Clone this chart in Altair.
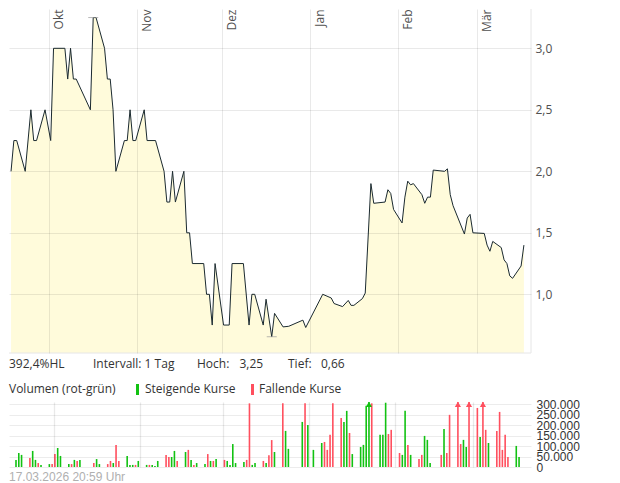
import altair as alt
import pandas as pd

# ---------------- data ----------------
price_dates = [
    "2025-09-17", "2025-09-18", "2025-09-19", "2025-09-22", "2025-09-24", "2025-09-25", "2025-09-26", "2025-09-29",
    "2025-10-01", "2025-10-02", "2025-10-06", "2025-10-07", "2025-10-08", "2025-10-09", "2025-10-10", "2025-10-15",
    "2025-10-16", "2025-10-17", "2025-10-20", "2025-10-21", "2025-10-22", "2025-10-23", "2025-10-24", "2025-10-27",
    "2025-10-28", "2025-10-29", "2025-10-30", "2025-10-31",
    "2025-11-03", "2025-11-04", "2025-11-07", "2025-11-10", "2025-11-11", "2025-11-12", "2025-11-13", "2025-11-14",
    "2025-11-17", "2025-11-18", "2025-11-19", "2025-11-20", "2025-11-24", "2025-11-25", "2025-11-26", "2025-11-27",
    "2025-11-28",
    "2025-12-01", "2025-12-03", "2025-12-04", "2025-12-08", "2025-12-10", "2025-12-11", "2025-12-12", "2025-12-15",
    "2025-12-16", "2025-12-18", "2025-12-19", "2025-12-22", "2025-12-24", "2025-12-29", "2025-12-30",
    "2026-01-05", "2026-01-08", "2026-01-09", "2026-01-12", "2026-01-14", "2026-01-15", "2026-01-16", "2026-01-19",
    "2026-01-20", "2026-01-22", "2026-01-23", "2026-01-27", "2026-01-28", "2026-01-29", "2026-01-30",
    "2026-02-02", "2026-02-03", "2026-02-04", "2026-02-05", "2026-02-06", "2026-02-09", "2026-02-10", "2026-02-11",
    "2026-02-12", "2026-02-13", "2026-02-17", "2026-02-18", "2026-02-19", "2026-02-20", "2026-02-24", "2026-02-25",
    "2026-02-26", "2026-02-27",
    "2026-03-03", "2026-03-04", "2026-03-05", "2026-03-06", "2026-03-09", "2026-03-10", "2026-03-11", "2026-03-12",
    "2026-03-13", "2026-03-16", "2026-03-17",
]
price_values = [
    2.00, 2.25, 2.25, 2.00, 2.50, 2.25, 2.25, 2.50,
    2.25, 3.00, 3.00, 2.75, 3.00, 2.75, 2.75, 2.50,
    3.25, 3.25, 3.00, 2.75, 2.75, 2.50, 2.00, 2.25,
    2.25, 2.50, 2.25, 2.25,
    2.50, 2.25, 2.25, 2.00, 1.75, 1.75, 2.00, 1.75,
    2.00, 1.50, 1.50, 1.25, 1.25, 1.00, 1.00, 0.75,
    1.25,
    0.75, 0.75, 1.25, 1.25, 0.75, 1.00, 1.00, 0.75,
    0.96, 0.655, 0.845, 0.735, 0.74, 0.79, 0.73,
    1.00, 0.97, 0.925, 0.90, 0.95, 0.91, 0.91, 0.965,
    1.01, 1.90, 1.74, 1.75, 1.85, 1.82, 1.69,
    1.58, 1.79, 1.92, 1.89, 1.90, 1.81, 1.74, 1.79,
    1.79, 2.01, 2.00, 2.02, 1.81, 1.72, 1.49, 1.62,
    1.65, 1.50,
    1.495, 1.40, 1.35, 1.43, 1.38, 1.28, 1.25, 1.15,
    1.13, 1.23, 1.40,
]

vol_dates = [
    "2025-09-17", "2025-09-18", "2025-09-19", "2025-09-22", "2025-09-23", "2025-09-24", "2025-09-25", "2025-09-26",
    "2025-09-29", "2025-09-30", "2025-10-01", "2025-10-02", "2025-10-03", "2025-10-06", "2025-10-07", "2025-10-08",
    "2025-10-09", "2025-10-10", "2025-10-15", "2025-10-16", "2025-10-17", "2025-10-20", "2025-10-21", "2025-10-22",
    "2025-10-23", "2025-10-24", "2025-10-27", "2025-10-28", "2025-10-29", "2025-10-30", "2025-10-31",
    "2025-11-03", "2025-11-04", "2025-11-05", "2025-11-06", "2025-11-07", "2025-11-10", "2025-11-11", "2025-11-12",
    "2025-11-13", "2025-11-14", "2025-11-17", "2025-11-18", "2025-11-19", "2025-11-20", "2025-11-21", "2025-11-24",
    "2025-11-25", "2025-11-26", "2025-11-27", "2025-11-28",
    "2025-12-01", "2025-12-02", "2025-12-03", "2025-12-04", "2025-12-05", "2025-12-08", "2025-12-09", "2025-12-10",
    "2025-12-11", "2025-12-12", "2025-12-15", "2025-12-16", "2025-12-17", "2025-12-18", "2025-12-19", "2025-12-22",
    "2025-12-23", "2025-12-24", "2025-12-29", "2025-12-30", "2025-12-31",
    "2026-01-02", "2026-01-05", "2026-01-06", "2026-01-07", "2026-01-08", "2026-01-09", "2026-01-12", "2026-01-13",
    "2026-01-14", "2026-01-15", "2026-01-16", "2026-01-19", "2026-01-20", "2026-01-21", "2026-01-22", "2026-01-23",
    "2026-01-26", "2026-01-27", "2026-01-28", "2026-01-29", "2026-01-30",
    "2026-02-02", "2026-02-03", "2026-02-04", "2026-02-05", "2026-02-06", "2026-02-09", "2026-02-10", "2026-02-11",
    "2026-02-12", "2026-02-13", "2026-02-17", "2026-02-18", "2026-02-19", "2026-02-20", "2026-02-23", "2026-02-24",
    "2026-02-25", "2026-02-26", "2026-02-27",
    "2026-03-02", "2026-03-03", "2026-03-04", "2026-03-05", "2026-03-06", "2026-03-09", "2026-03-10", "2026-03-11",
    "2026-03-12", "2026-03-13", "2026-03-16", "2026-03-17",
]
vol_values = [
    34000, 67000, 58000, 43000, 77000, 34000, 19000, 10000,
    14000, 14000, 62000, 91000, 53000, 14000, 14000, 34000,
    29000, 34000, 19000, 38000, 14000, 14000, 29000, 19000,
    106000, 29000, 53000, 10000, 10000, 10000, 29000,
    10000, 10000, 10000, 5000, 29000, 58000, 48000, 48000,
    77000, 29000, 72000, 82000, 34000, 10000, 19000, 14000,
    62000, 29000, 29000, 38000,
    34000, 29000, 10000, 110000, 19000, 24000, 34000, 305000,
    10000, 19000, 29000, 19000, 56000, 129000, 72000, 305000,
    173000, 87000, 216000, 305000, 201000,
    82000, 115000, 120000, 82000, 154000, 305000, 235000, 216000,
    269000, 163000, 62000, 96000, 106000, 293000, 400000, 305000,
    155000, 155000, 308000, 158000, 178000,
    67000, 58000, 269000, 106000, 58000, 38000, 58000, 149000,
    130000, 19000, 58000, 182000, 67000, 250000, 400000, 110000,
    130000, 96000, 400000,
    283000, 144000, 400000, 178000, 115000, 173000, 264000, 82000,
    154000, 48000, 101000, 48000,
]
vol_dirs = [
    "up", "up", "up", "down", "up", "up", "down", "up",
    "up", "down", "down", "up", "up", "up", "down", "up",
    "down", "up", "down", "up", "up", "down", "down", "up",
    "down", "down", "up", "up", "up", "down", "up",
    "up", "down", "up", "up", "up", "down", "down", "up",
    "up", "down", "up", "down", "up", "down", "up", "up",
    "down", "up", "down", "up",
    "down", "up", "up", "up", "up", "up", "down", "down",
    "up", "up", "down", "up", "down", "down", "up", "down",
    "up", "up", "up", "down", "up",
    "up", "up", "down", "down", "down", "down", "down", "up",
    "up", "down", "up", "up", "up", "up", "up", "down",
    "up", "up", "up", "down", "down",
    "down", "up", "up", "down", "up", "down", "down", "up",
    "up", "up", "down", "up", "down", "down", "down", "down",
    "up", "up", "down",
    "down", "up", "down", "down", "up", "down", "down", "down",
    "down", "down", "up", "up",
]

month_dates = ["2025-10-01", "2025-11-01", "2025-12-01", "2026-01-01", "2026-02-01", "2026-03-01"]
month_labels = ["Okt", "Nov", "Dez", "Jan", "Feb", "Mär"]
price_ticks = [1.0, 1.5, 2.0, 2.5, 3.0]
volume_ticks = [0, 50000, 100000, 150000, 200000, 250000, 300000]
extreme_dates = ["2025-10-16", "2025-12-18"]
extreme_values = [3.25, 0.655]

info_texts = ["392,4%HL", "Intervall: 1 Tag", "Hoch:", "3,25", "Tief:", "0,66"]
legend_texts = ["Volumen (rot-grün)", "Steigende Kurse", "Fallende Kurse"]
timestamp_text = "17.03.2026 20:59 Uhr"

# ---------------- layout / style ----------------
W = 522
H_P = 344
H_V = 65
Y_MIN, Y_MAX = 0.5228, 3.3195
VOL_MAX = 311500
X0 = alt.DateTime(year=2025, month=9, date=16, hours=18, minutes=43)
X1 = alt.DateTime(year=2026, month=3, date=20, hours=0)
GREEN = "#12c212"
RED = "#ff4f5e"
FILL = "#fffbdb"
LINE = "#1b2a30"
FONT = "Open Sans"

price_df = pd.DataFrame({"date": pd.to_datetime(price_dates) + pd.Timedelta(hours=12), "price": price_values})
vol_df = pd.DataFrame({"date": pd.to_datetime(vol_dates) + pd.Timedelta(hours=12), "vol": vol_values, "dir": vol_dirs})
ext_df = pd.DataFrame({"date": pd.to_datetime(extreme_dates) + pd.Timedelta(hours=12), "price": extreme_values})
month_df = pd.DataFrame({"date": pd.to_datetime(month_dates), "label": month_labels})

grid_vals = [alt.DateTime(year=int(d[:4]), month=int(d[5:7]), date=1) for d in month_dates]
x_scale = alt.Scale(domain=[X0, X1])


def x_grid_axis(width=1.0):
    return alt.Axis(values=grid_vals, grid=True, labels=False, ticks=False, domain=False, title=None,
                    gridColor="#000000", gridOpacity=0.085, gridWidth=width, zindex=1)


def one_row():
    return alt.Data(values=[{}])


def label(text, x, y, font=FONT, color="#333333", size=12):
    return alt.Chart(one_row()).mark_text(
        text=text, align="left", baseline="middle", font=font, fontSize=size, color=color
    ).encode(x=alt.value(x), y=alt.value(y))


# ---------------- price panel ----------------
y_price = alt.Y(
    "price:Q",
    scale=alt.Scale(domain=[Y_MIN, Y_MAX], zero=False, nice=False),
    axis=alt.Axis(orient="right", values=price_ticks,
                  labelExpr="replace(format(datum.value, '.1f'), '.', ',')",
                  grid=True, ticks=False, domain=False, title=None, labelOverlap=False,
                  labelFont=FONT, labelFontSize=12, labelColor="#505050", labelPadding=4,
                  gridColor="#000000", gridOpacity=0.085, zindex=1),
)

area = alt.Chart(price_df).mark_area(color=FILL, clip=True).encode(
    x=alt.X("date:T", scale=x_scale, axis=x_grid_axis()),
    y=y_price,
    y2=alt.datum(Y_MIN),
)
line = alt.Chart(price_df).mark_line(color=LINE, strokeWidth=1, clip=True).encode(
    x="date:T", y="price:Q"
)
ext_ticks = alt.Chart(ext_df).mark_tick(orient="horizontal", size=10, thickness=1, color="#9a9a9a").encode(
    x="date:T", y="price:Q"
)
months = alt.Chart(month_df).mark_text(
    angle=270, align="right", baseline="top", dy=4.8, font=FONT, fontSize=12, color="#505050"
).encode(x="date:T", y=alt.value(0.5), text="label:N")

border_r = alt.Chart(one_row()).mark_rule(color="#e6e6e6", strokeWidth=1).encode(
    x=alt.value(W), y=alt.value(0), y2=alt.value(H_P)
)
border_b = alt.Chart(one_row()).mark_rule(color="#e6e6e6", strokeWidth=1).encode(
    x=alt.value(0), x2=alt.value(W), y=alt.value(H_P)
)

row1_y = 355.4
row2_y = 380.4
info_layers = [
    label(info_texts[0], 0, row1_y),
    label(info_texts[1], 84, row1_y),
    label(info_texts[2], 188, row1_y),
    label(info_texts[3], 230.5, row1_y),
    label(info_texts[4], 279, row1_y),
    label(info_texts[5], 312, row1_y),
    label(legend_texts[0], 0, row2_y),
    label(legend_texts[1], 136, row2_y),
    label(legend_texts[2], 250, row2_y),
]
sw_green = alt.Chart(one_row()).mark_rect(color=GREEN).encode(
    x=alt.value(127), x2=alt.value(130), y=alt.value(375), y2=alt.value(386)
)
sw_red = alt.Chart(one_row()).mark_rect(color=RED).encode(
    x=alt.value(242), x2=alt.value(245), y=alt.value(375), y2=alt.value(386)
)

price_panel = alt.layer(
    area, line, ext_ticks, months, border_r, border_b, sw_green, sw_red, *info_layers
).properties(width=W, height=H_P)

# ---------------- volume panel ----------------
color_enc = alt.Color("dir:N", scale=alt.Scale(domain=["up", "down"], range=[GREEN, RED]), legend=None)
vol_scale = alt.Scale(domain=[0, VOL_MAX], nice=False, zero=True)
vol_axis = alt.Axis(orient="right", values=volume_ticks,
                    labelExpr="replace(format(datum.value, ',d'), ',', '.')",
                    grid=True, ticks=False, domain=False, title=None, labelOverlap=False,
                    labelFont="Liberation Sans", labelFontSize=12, labelColor="#333333",
                    labelPadding=5, labelBound=False,
                    gridColor="#000000", gridOpacity=0.075, zindex=0)

bars = alt.Chart(vol_df).mark_bar(width=1.6, clip=True).encode(
    x=alt.X("date:T", scale=x_scale, axis=x_grid_axis(1.3)),
    y=alt.Y("vol:Q", scale=vol_scale, axis=vol_axis),
    color=color_enc,
)
arrows = alt.Chart(vol_df).transform_filter(
    alt.datum.vol > VOL_MAX
).transform_calculate(
    top="300000"
).mark_point(shape="triangle-up", filled=True, size=38, opacity=1).encode(
    x=alt.X("date:T", scale=x_scale, axis=x_grid_axis(1.3)),
    y=alt.Y("top:Q", scale=vol_scale, axis=vol_axis),
    color=color_enc,
)
stamp = label(timestamp_text, 0, 74.6, font="Liberation Sans", color="#b0b0b0")

volume_panel = alt.layer(bars, arrows, stamp).properties(width=W, height=H_V)

chart = alt.vconcat(price_panel, volume_panel, spacing=49, bounds="flush").properties(
    padding=0
).configure_view(stroke=None)

chart.save("out.html", embed_options={"renderer": "svg", "actions": False})
